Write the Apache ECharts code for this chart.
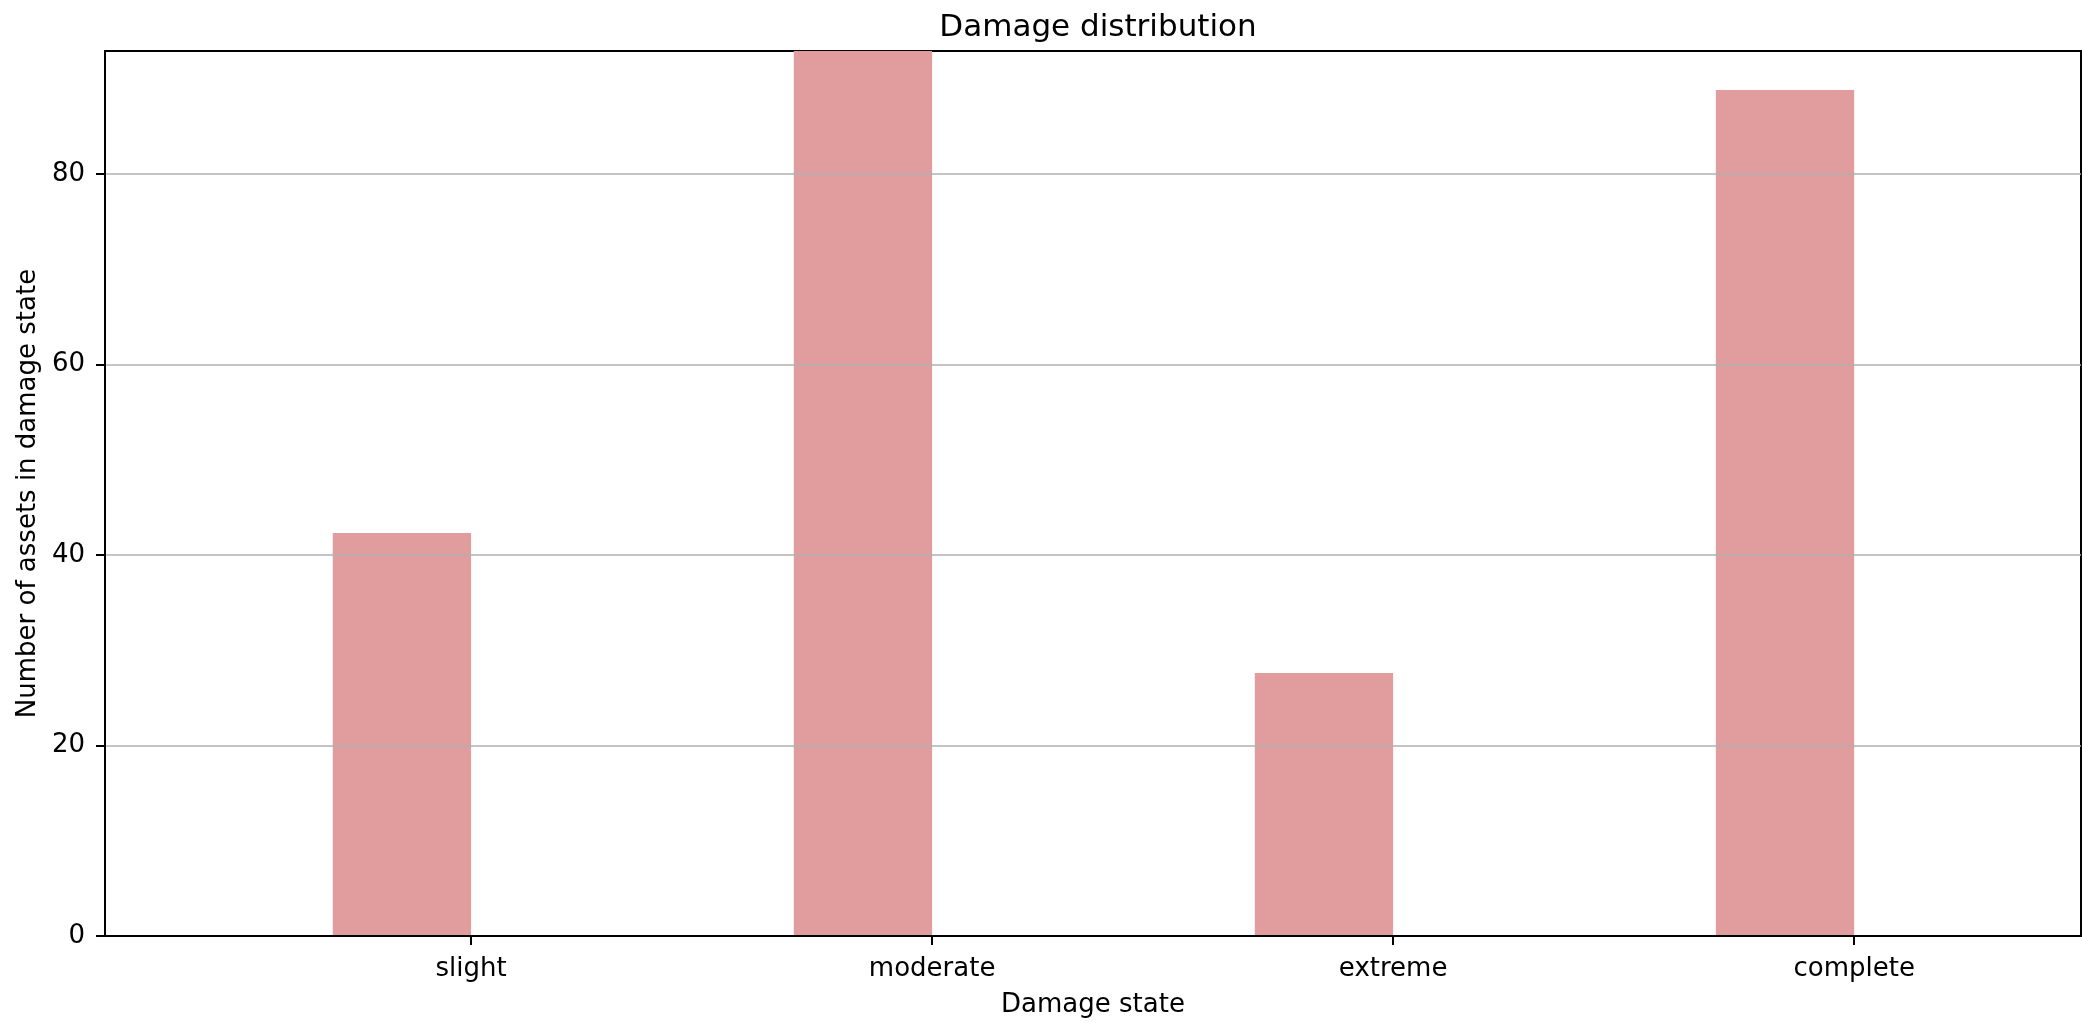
<!DOCTYPE html>
<html>
<head>
<meta charset="utf-8">
<script src="https://cdn.jsdelivr.net/npm/echarts@6/dist/echarts.min.js"></script>
<style>
  html, body { margin: 0; padding: 0; background: #fff; }
  #chart { width: 2082px; height: 1023px; }
</style>
</head>
<body>
<div id="chart"></div>
<script>
// values
const damageStates = ['slight', 'moderate', 'extreme', 'complete']
const assetCounts = [42.3, 92.9, 27.6, 88.8]
const yTicks = [0, 20, 40, 60, 80]
const xTicks = [0, 1, 2, 3]

const BAR_SPAN = 0.3 // bars sit left of their tick, like the original
const FONT = 'DejaVu Sans'

const chart = echarts.init(document.getElementById('chart'))

const option = {
  animation: false,
  backgroundColor: '#fff',
  title: {
    text: 'Damage distribution',
    left: 1093,
    top: 7,
    textAlign: 'center',
    textStyle: { fontFamily: FONT, fontSize: 31, fontWeight: 'normal', color: '#000' }
  },
  grid: {
    left: 105,
    top: 51,
    width: 1976,
    height: 887,
    show: true,
    borderColor: '#000',
    borderWidth: 2
  },
  xAxis: {
    type: 'value',
    min: -0.794,
    max: 3.492,
    z: 3,
    name: 'Damage state',
    nameLocation: 'middle',
    nameGap: 56,
    nameTextStyle: { fontFamily: FONT, fontSize: 26, color: '#000' },
    axisLine: { show: true, onZero: false, lineStyle: { color: '#000', width: 2 } },
    axisTick: {
      show: true,
      customValues: xTicks,
      length: 9,
      lineStyle: { color: '#000', width: 2 }
    },
    axisLabel: {
      customValues: xTicks,
      margin: 20,
      fontFamily: FONT,
      fontSize: 26,
      color: '#000',
      formatter: (v) => damageStates[v]
    },
    splitLine: { show: false }
  },
  yAxis: {
    type: 'value',
    min: 0,
    max: 92.9,
    z: 3,
    name: 'Number of assets in damage state',
    nameLocation: 'middle',
    nameRotate: 90,
    nameGap: 64,
    nameTextStyle: { fontFamily: FONT, fontSize: 26, color: '#000' },
    axisLine: { show: true, onZero: false, lineStyle: { color: '#000', width: 2 } },
    axisTick: {
      show: true,
      customValues: yTicks,
      length: 9,
      lineStyle: { color: '#000', width: 2 }
    },
    axisLabel: {
      customValues: yTicks,
      margin: 20,
      fontFamily: FONT,
      fontSize: 26,
      color: '#000'
    },
    splitLine: { show: true, lineStyle: { color: '#b0b0b0', width: 1.6 } }
  },
  series: [
    {
      type: 'custom',
      z: 2,
      data: assetCounts.map((v, i) => [i, v]),
      renderItem: (params, api) => {
        const i = api.value(0)
        const topLeft = api.coord([i - BAR_SPAN, api.value(1)])
        const bottomRight = api.coord([i, 0])
        return {
          type: 'rect',
          shape: {
            x: topLeft[0],
            y: topLeft[1],
            width: bottomRight[0] - topLeft[0],
            height: bottomRight[1] - topLeft[1]
          },
          style: { fill: '#e19d9d' }
        }
      }
    }
  ]
}

chart.setOption(option)
</script>
</body>
</html>
